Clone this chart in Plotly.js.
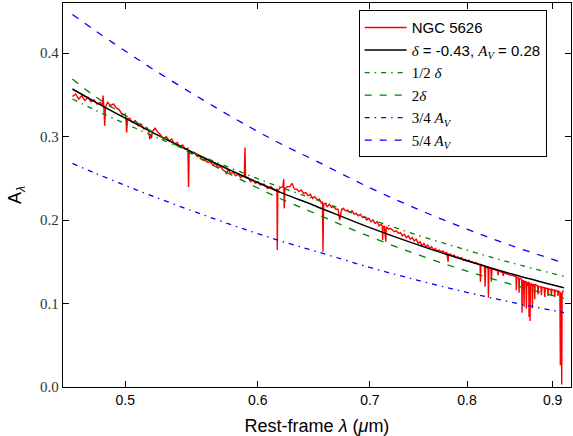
<!DOCTYPE html>
<html>
<head>
<meta charset="utf-8">
<script src="https://cdn.plot.ly/plotly-3.0.1.min.js"></script>
<style>html,body{margin:0;padding:0;background:#fff;}#chart{width:573px;height:436px;}</style>
</head>
<body>
<div id="chart"></div>
<script>
// ---- data ----
const specWave = [
0.465,0.467,0.469,0.471,0.473,0.475,0.477,0.479,0.481,0.483,
0.4845,0.4850,0.4855,0.4861,0.4866,0.488,0.490,0.492,0.494,0.496,
0.498,0.500,0.5005,0.5010,0.5015,0.503,0.505,0.507,0.509,0.511,
0.513,0.515,0.5165,0.5172,0.5178,0.5184,0.519,0.521,0.523,0.525,
0.527,0.529,0.531,0.533,0.535,0.537,0.539,0.541,0.543,0.545,
0.5455,0.546,0.548,0.550,0.552,0.554,0.556,0.558,0.560,0.562,
0.564,0.566,0.568,0.570,0.572,0.574,0.5745,0.576,0.578,0.580,
0.582,0.584,0.586,0.588,0.5890,0.5895,0.5900,0.592,0.594,0.596,
0.598,0.600,0.602,0.605,0.608,0.611,0.614,0.6160,0.6163,0.6167,
0.619,0.621,0.6218,0.6222,0.6228,0.625,0.627,0.629,0.631,0.633,
0.635,0.637,0.639,0.641,0.643,0.645,0.647,0.649,0.651,0.653,
0.655,0.6558,0.6563,0.6568,0.658,0.660,0.662,0.664,0.666,0.668,
0.670,0.6715,0.673,0.675,0.677,0.679,0.681,0.683,0.685,0.687,
0.689,0.691,0.693,0.695,0.697,0.699,0.701,0.703,0.705,0.707,
0.709,0.711,0.712,0.7124,0.7128,0.714,0.7155,0.716,0.718,0.720,
0.722,0.724,0.726,0.728,0.730,0.732,0.734,0.736,0.738,0.740,
0.742,0.744,0.746,0.748,0.750,0.752,0.754,0.756,0.758,0.760,
0.762,0.764,0.766,0.768,0.770,0.772,0.774,0.776,0.778,0.7795,
0.780,0.782,0.784,0.786,0.788,0.790,0.792,0.794,0.796,0.798,
0.800,0.802,0.804,0.806,0.808,0.810,0.812,0.8145,0.8149,0.8155,
0.817,0.8195,0.8202,0.8208,0.8225,0.8235,0.8239,0.8245,0.826,0.8268,
0.8273,0.8279,0.830,0.832,0.834,0.8345,0.8349,0.8355,0.838,0.840,
0.8403,0.8407,0.8412,0.843,0.845,0.847,0.849,0.851,0.853,0.855,
0.8558,0.8562,0.8566,0.858,0.8590,0.8594,0.8598,0.861,0.8625,0.8629,
0.8633,0.864,0.8648,0.8653,0.8658,0.867,0.8676,0.8681,0.8686,0.870,
0.8708,0.8713,0.8718,0.8721,0.8725,0.8729,0.874,0.8748,0.8753,0.8758,
0.877,0.8776,0.8781,0.8786,0.880,0.8815,0.8821,0.8827,0.884,0.8856,
0.8862,0.8868,0.888,0.8897,0.8903,0.8909,0.892,0.8937,0.8943,0.8949,
0.896,0.8978,0.8984,0.899,0.901,0.9020,0.9026,0.9032,0.905,0.9062,
0.9067,0.9072,0.908,0.9090,0.9096,0.9102,0.9108,0.9113,0.9118,0.9134
];
const specFlux = [
0.348,0.351,0.345,0.349,0.343,0.347,0.342,0.344,0.339,0.341,
0.338,0.349,0.336,0.313,0.335,0.341,0.337,0.339,0.334,0.332,
0.326,0.327,0.322,0.305,0.321,0.322,0.317,0.319,0.313,0.315,
0.309,0.311,0.306,0.297,0.303,0.298,0.306,0.310,0.305,0.302,
0.297,0.300,0.295,0.297,0.291,0.293,0.288,0.290,0.285,0.286,
0.2395,0.283,0.280,0.281,0.276,0.277,0.272,0.273,0.269,0.270,
0.266,0.268,0.263,0.264,0.260,0.258,0.255,0.260,0.256,0.257,
0.253,0.255,0.251,0.253,0.252,0.287,0.251,0.251,0.246,0.248,
0.244,0.246,0.242,0.243,0.238,0.240,0.236,0.237,0.164,0.235,
0.239,0.240,0.249,0.214,0.238,0.240,0.240,0.244,0.237,0.237,
0.234,0.236,0.232,0.233,0.229,0.231,0.226,0.228,0.224,0.225,
0.220,0.222,0.162,0.219,0.220,0.216,0.219,0.215,0.216,0.213,
0.213,0.200,0.211,0.214,0.211,0.212,0.209,0.211,0.207,0.208,
0.205,0.207,0.203,0.204,0.200,0.202,0.198,0.200,0.196,0.198,
0.193,0.195,0.193,0.176,0.191,0.193,0.174,0.192,0.189,0.190,
0.188,0.186,0.187,0.184,0.185,0.181,0.183,0.179,0.181,0.177,
0.179,0.175,0.177,0.172,0.174,0.169,0.172,0.168,0.170,0.166,
0.168,0.164,0.166,0.163,0.164,0.162,0.163,0.160,0.161,0.150,
0.159,0.159,0.157,0.158,0.155,0.156,0.154,0.155,0.152,0.153,
0.151,0.152,0.150,0.150,0.148,0.149,0.147,0.147,0.126,0.146,
0.146,0.145,0.120,0.144,0.143,0.144,0.107,0.143,0.142,0.141,
0.126,0.141,0.141,0.140,0.139,0.139,0.134,0.139,0.138,0.137,
0.137,0.133,0.137,0.136,0.135,0.135,0.134,0.134,0.133,0.132,
0.132,0.116,0.131,0.131,0.130,0.113,0.130,0.130,0.129,0.089,
0.128,0.125,0.128,0.096,0.127,0.124,0.127,0.094,0.126,0.121,
0.126,0.084,0.125,0.123,0.079,0.124,0.122,0.124,0.094,0.123,
0.122,0.123,0.105,0.123,0.122,0.121,0.111,0.121,0.120,0.120,
0.110,0.120,0.119,0.119,0.108,0.119,0.118,0.118,0.109,0.118,
0.117,0.117,0.109,0.117,0.116,0.116,0.108,0.116,0.115,0.115,
0.109,0.115,0.114,0.114,0.026,0.110,0.113,0.003,0.112,0.116
];
const modelWave   = [0.465, 0.48, 0.50, 0.52, 0.55, 0.58, 0.60, 0.62, 0.65, 0.70, 0.75, 0.80, 0.85, 0.914];
const bestFit     = [0.357, 0.3413, 0.3220, 0.3041, 0.2800, 0.2581, 0.2449, 0.2326, 0.2166, 0.1909, 0.1694, 0.1512, 0.1356, 0.1188];
const halfDelta   = [0.345, 0.3315, 0.3155, 0.3005, 0.2800, 0.2611, 0.2495, 0.2387, 0.2245, 0.2011, 0.1811, 0.1639, 0.1489, 0.1325];
const twoDelta    = [0.369, 0.3477, 0.3254, 0.3048, 0.2775, 0.2530, 0.2384, 0.2249, 0.2074, 0.1801, 0.1576, 0.1388, 0.1230, 0.1061];
const threeQuarterAv = [0.2678, 0.2560, 0.2415, 0.2281, 0.2100, 0.1936, 0.1837, 0.1745, 0.1625, 0.1432, 0.1271, 0.1134, 0.1017, 0.0891];
const fiveQuarterAv  = [0.4463, 0.4266, 0.4025, 0.3801, 0.3500, 0.3226, 0.3061, 0.2908, 0.2708, 0.2386, 0.2118, 0.1890, 0.1695, 0.1485];
const xTickVals = [0.5, 0.6, 0.7, 0.8, 0.9];
const xTickText = ['0.5', '0.6', '0.7', '0.8', '0.9'];
const yTickVals = [0.0, 0.1, 0.2, 0.3, 0.4];
const yTickText = ['0.0', '0.1', '0.2', '0.3', '0.4'];
const seriesNames = [
  'NGC 5626',
  '<span style="font-family:\'Liberation Serif\',serif"><i>δ</i></span> = -0.43, <span style="font-family:\'Liberation Serif\',serif"><i>A<sub>V</sub></i></span> = 0.28',
  '<span style="font-family:\'Liberation Serif\',serif">1/2 <i>δ</i></span>',
  '<span style="font-family:\'Liberation Serif\',serif">2<i>δ</i></span>',
  '<span style="font-family:\'Liberation Serif\',serif">3/4 <i>A<sub>V</sub></i></span>',
  '<span style="font-family:\'Liberation Serif\',serif">5/4 <i>A<sub>V</sub></i></span>'
];

const SANS = 'Liberation Sans, Arial, sans-serif';
const SERIF = 'Liberation Serif, DejaVu Serif, serif';

const traces = [
  {x: specWave, y: specFlux, name: seriesNames[0], mode: 'lines', line: {color: '#ff0000', width: 1.4}, legendgroup: 'a'},
  {x: modelWave, y: bestFit, name: seriesNames[1], mode: 'lines', line: {color: '#000000', width: 1.5, shape: 'spline'}, legendgroup: 'b'},
  {x: modelWave, y: halfDelta, name: seriesNames[2], mode: 'lines', line: {color: '#008000', width: 1.3, dash: '5px,5px,1.5px,5px', shape: 'spline'}, legendgroup: 'c'},
  {x: modelWave, y: twoDelta, name: seriesNames[3], mode: 'lines', line: {color: '#008000', width: 1.3, dash: '7px,8px', shape: 'spline'}, legendgroup: 'd'},
  {x: modelWave, y: threeQuarterAv, name: seriesNames[4], mode: 'lines', line: {color: '#0000ff', width: 1.3, dash: '5px,5px,1.5px,5px', shape: 'spline'}, legendgroup: 'e'},
  {x: modelWave, y: fiveQuarterAv, name: seriesNames[5], mode: 'lines', line: {color: '#0000ff', width: 1.3, dash: '7px,8px', shape: 'spline'}, legendgroup: 'f'}
];

const axisCommon = {
  showline: true, linecolor: '#000', linewidth: 1.2, mirror: 'ticks',
  ticks: 'inside', ticklen: 6, tickwidth: 1, tickcolor: '#000',
  showgrid: false, zeroline: false
};

const layout = {
  width: 573, height: 436,
  margin: {l: 63, r: 2, t: 3, b: 49, pad: 0},
  paper_bgcolor: '#fff', plot_bgcolor: '#fff',
  showlegend: true,
  xaxis: Object.assign({}, axisCommon, {
    type: 'log',
    range: [Math.log10(0.459), Math.log10(0.923)],
    tickmode: 'array', tickvals: xTickVals, ticktext: xTickText,
    tickfont: {family: SANS, size: 14, color: '#000'},
    title: {text: 'Rest-frame <i>λ</i> (<i>μ</i>m)', font: {family: SANS, size: 18, color: '#000'}, standoff: 20}
  }),
  yaxis: Object.assign({}, axisCommon, {
    range: [0, 0.46],
    tickmode: 'array', tickvals: yTickVals, ticktext: yTickText,
    tickfont: {family: SERIF, size: 15, color: '#333'},
    title: {text: 'A<sub><i>λ</i></sub>', font: {family: SANS, size: 18, color: '#000'}, standoff: 13}
  }),
  legend: {
    x: 0.582, y: 0.981, xanchor: 'left', yanchor: 'top',
    bgcolor: '#fff', bordercolor: '#000', borderwidth: 1,
    font: {family: SANS, size: 15, color: '#000'},
    tracegroupgap: 8, itemwidth: 42, traceorder: 'normal'
  }
};

Plotly.newPlot('chart', traces, layout, {displayModeBar: false, staticPlot: true});
</script>
</body>
</html>
